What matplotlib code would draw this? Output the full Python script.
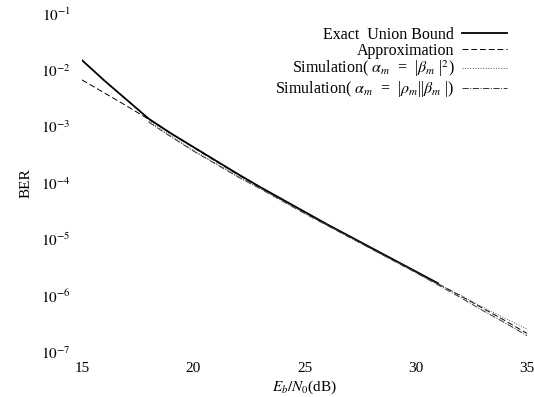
import numpy as np
import matplotlib
matplotlib.use("Agg")
import matplotlib.pyplot as plt

plt.rcParams['font.family'] = ['Liberation Serif', 'DejaVu Serif']
plt.rcParams['mathtext.fontset'] = 'stix'

# Eb/N0 (dB)
snr_exact = [15, 16, 17, 18, 19, 20, 21, 22, 23, 24, 25, 26, 27, 28, 29, 30, 31]
log_ber_exact = [-1.82, -2.18, -2.52, -2.86, -3.12, -3.36, -3.60, -3.84, -4.07,
                 -4.29, -4.51, -4.73, -4.94, -5.15, -5.36, -5.57, -5.78]

snr_approx = [15, 16, 17, 18, 19, 20, 21, 22, 23, 24, 25, 26, 27, 28, 29, 30,
              31, 32, 33, 34, 35]
log_ber_approx = [-2.17, -2.40, -2.63, -2.87, -3.12, -3.37, -3.61, -3.85, -4.08,
                  -4.30, -4.52, -4.74, -4.95, -5.16, -5.37, -5.58, -5.79, -6.00,
                  -6.22, -6.44, -6.67]

snr_sim = [18, 19, 20, 21, 22, 23, 24, 25, 26, 27, 28, 29, 30, 31, 32, 33, 34, 35]
log_ber_sim1 = [-2.90, -3.16, -3.42, -3.65, -3.88, -4.09, -4.31, -4.53, -4.74,
                -4.95, -5.16, -5.37, -5.58, -5.79, -5.99, -6.20, -6.40, -6.59]
log_ber_sim2 = [-2.92, -3.18, -3.43, -3.66, -3.89, -4.10, -4.32, -4.54, -4.75,
                -4.96, -5.17, -5.38, -5.59, -5.81, -6.03, -6.26, -6.48, -6.71]

labels = ["Exact  Union Bound", "Approximation",
          r"Simulation( $\alpha_m$  =  |$\beta_m$ |$^2$)",
          r"Simulation( $\alpha_m$  =  |$\rho_m$||$\beta_m$ |)"]

xticks = [15, 20, 25, 30, 35]
yexps = [-1, -2, -3, -4, -5, -6, -7]

fig = plt.figure(figsize=(5.34, 3.97), dpi=100)
ax = fig.add_axes([82/534, 1-352/397, (527-82)/534, (352-14)/397])

h1, = ax.semilogy(snr_exact, 10.0**np.array(log_ber_exact), color='black', lw=1.3, ls='-')
h2, = ax.semilogy(snr_approx, 10.0**np.array(log_ber_approx), color='black', lw=0.7, ls=(0, (6, 3)))
h3, = ax.semilogy(snr_sim, 10.0**np.array(log_ber_sim1), color='#555555', lw=0.7, ls=':')
h4, = ax.semilogy(snr_sim, 10.0**np.array(log_ber_sim2), color='#333333', lw=0.7, ls='-.')

ax.set_xlim(15, 35)
ax.set_ylim(1e-7, 1e-1)
ax.set_xticks(xticks)
ax.set_xticklabels([str(t) for t in xticks])
ax.set_yticks([10.0**e for e in yexps])
ax.set_yticklabels([r"$10^{%d}$" % e for e in yexps])
ax.minorticks_off()
ax.tick_params(axis='both', length=0, labelsize=11)
ax.tick_params(axis='x', pad=7)
ax.tick_params(axis='y', pad=8)
for s in ax.spines.values():
    s.set_visible(False)

ax.set_xlabel(r"$E_b/N_0$(dB)", fontsize=11, labelpad=3)
ax.set_ylabel("BER", fontsize=11, labelpad=6)

leg = ax.legend([h1, h2, h3, h4], labels, loc='upper right',
                bbox_to_anchor=(0.955, 0.962), frameon=False, markerfirst=False,
                fontsize=11.5, handlelength=2.8, handletextpad=0.5,
                labelspacing=0.0, borderpad=0.0, borderaxespad=0.0)

fig.savefig("out.png", dpi=100)
